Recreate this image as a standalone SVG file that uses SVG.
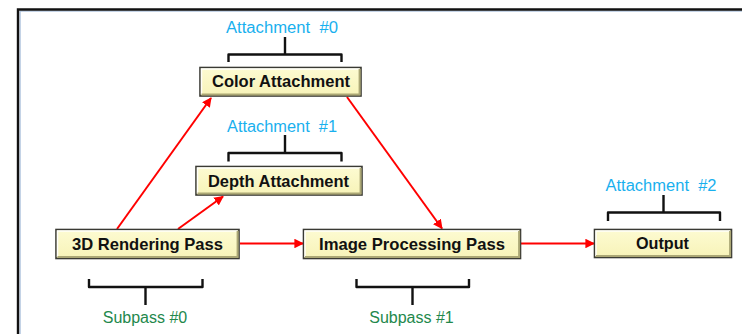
<svg xmlns="http://www.w3.org/2000/svg" width="742" height="334" viewBox="0 0 742 334">
  <defs>
    <marker id="arrow" viewBox="0 0 10 10" refX="9" refY="5" markerWidth="4.8" markerHeight="4.8" orient="auto" markerUnits="strokeWidth">
      <path d="M0,0 L10,5 L0,10 z" fill="#ff0000"/>
    </marker>
    <linearGradient id="boxfill" x1="0" y1="0" x2="0" y2="1">
      <stop offset="0" stop-color="#fdfbd2"/>
      <stop offset="1" stop-color="#f7f3b8"/>
    </linearGradient>
  </defs>
  <style>
    .box { fill: url(#boxfill); stroke: #3a3a34; stroke-width: 1.6; }
    .hi { fill: none; stroke: #ffffff; stroke-width: 1.5; opacity: 0.9; }
    .lo { fill: none; stroke: #aba775; stroke-width: 2; }
    .label { font-family: "Liberation Sans", Arial, sans-serif; font-weight: bold; font-size: 16.3px; fill: #111; text-anchor: middle; }
    .att { font-family: "Liberation Sans", Arial, sans-serif; font-size: 16px; fill: #19b0ee; text-anchor: middle; }
    .sub { font-family: "Liberation Sans", Arial, sans-serif; font-size: 16px; fill: #23884c; text-anchor: middle; }
    .brace { fill: none; stroke: #111; stroke-width: 2.4; stroke-linejoin: round; }
    .edge { fill: none; stroke: #ff0000; stroke-width: 2; marker-end: url(#arrow); }
  </style>

  <rect width="742" height="334" fill="#ffffff"/>

  <!-- frame -->
  <path d="M18.5,340 V9.5 H750" fill="none" stroke="#9cb6d6" stroke-width="1" transform="translate(1.6,1.6)"/>
  <path d="M18,340 V9.5 H750" fill="none" stroke="#111111" stroke-width="2.4"/>

  <!-- connectors -->
  <g id="connectors">
    <line class="edge" x1="117" y1="229" x2="211" y2="98"/>
    <line class="edge" x1="178" y1="229" x2="223" y2="196.5"/>
    <line class="edge" x1="240" y1="243.5" x2="303" y2="243.5"/>
    <line class="edge" x1="347" y1="97" x2="442" y2="228.5"/>
    <line class="edge" x1="521" y1="243.5" x2="594" y2="243.5"/>
  </g>

  <!-- attachment / subpass braces and labels -->
  <g id="brace-att0">
    <path class="brace" d="M228.5,62 V54.5 H341.5 V62 M285,54.5 V37"/>
    <text class="att" x="282" y="33" xml:space="preserve" textLength="112" lengthAdjust="spacingAndGlyphs">Attachment  #0</text>
  </g>
  <g id="brace-att1">
    <path class="brace" d="M228.5,161.5 V153 H341.5 V161.5 M285,153 V135"/>
    <text class="att" x="282" y="131.5" xml:space="preserve" textLength="110" lengthAdjust="spacingAndGlyphs">Attachment  #1</text>
  </g>
  <g id="brace-att2">
    <path class="brace" d="M608,221 V212.5 H720 V221 M663.5,212.5 V195"/>
    <text class="att" x="661" y="190.5" xml:space="preserve" textLength="111" lengthAdjust="spacingAndGlyphs">Attachment  #2</text>
  </g>
  <g id="brace-sub0">
    <path class="brace" d="M89,279 V287 H202.5 V279 M145.5,287 V305"/>
    <text class="sub" x="145" y="323">Subpass #0</text>
  </g>
  <g id="brace-sub1">
    <path class="brace" d="M356.5,279 V287 H469 V279 M412.5,287 V305"/>
    <text class="sub" x="411.5" y="323">Subpass #1</text>
  </g>

  <!-- nodes -->
  <g id="color-attachment">
    <rect class="box" x="200" y="67.5" width="161" height="28.5"/>
    <path class="hi" d="M201.5,94.5 V69 H359.5"/>
    <path class="lo" d="M201.5,94.6 H359.6 V69"/>
    <text class="label" x="281" y="87" textLength="138" lengthAdjust="spacingAndGlyphs">Color Attachment</text>
  </g>
  <g id="depth-attachment">
    <rect class="box" x="196" y="166.5" width="166" height="28.5"/>
    <path class="hi" d="M197.5,193.5 V168 H360.5"/>
    <path class="lo" d="M197.5,193.6 H360.6 V168"/>
    <text class="label" x="278.5" y="186.5" textLength="141" lengthAdjust="spacingAndGlyphs">Depth Attachment</text>
  </g>
  <g id="rendering-pass">
    <rect class="box" x="56" y="229.5" width="183" height="29"/>
    <path class="hi" d="M57.5,257 V231 H237.5"/>
    <path class="lo" d="M57.5,257.1 H237.6 V231"/>
    <text class="label" x="147.5" y="250" textLength="151" lengthAdjust="spacingAndGlyphs">3D Rendering Pass</text>
  </g>
  <g id="image-processing-pass">
    <rect class="box" x="303.5" y="229.5" width="217" height="29"/>
    <path class="hi" d="M305,257 V231 H519"/>
    <path class="lo" d="M305,257.1 H519.1 V231"/>
    <text class="label" x="412" y="250" textLength="186" lengthAdjust="spacingAndGlyphs">Image Processing Pass</text>
  </g>
  <g id="output">
    <rect class="box" x="594.5" y="229.5" width="137" height="28"/>
    <path class="hi" d="M596,256 V231 H730"/>
    <path class="lo" d="M596,256.1 H730.1 V231"/>
    <text class="label" x="662.5" y="249" textLength="53" lengthAdjust="spacingAndGlyphs">Output</text>
  </g>
</svg>
